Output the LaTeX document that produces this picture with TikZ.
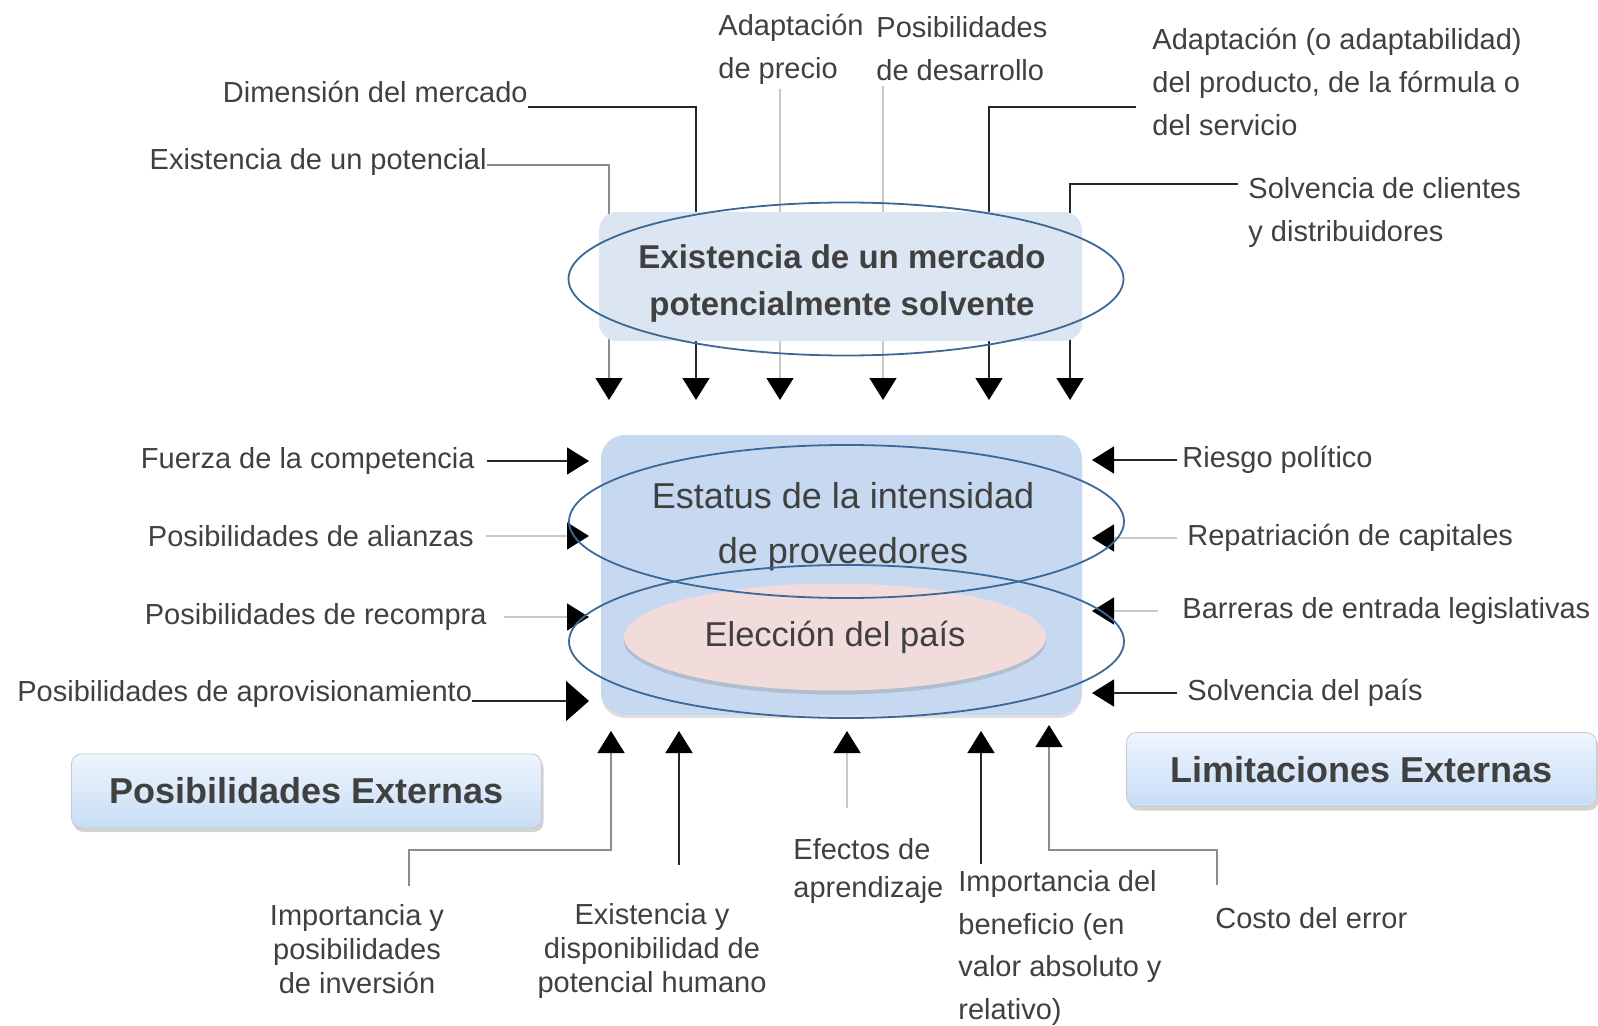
\documentclass[tikz,border=0pt]{standalone}
\usepackage{fontspec}
\setmainfont{Liberation Sans}
\usetikzlibrary{arrows.meta,positioning,shapes.geometric,shadows}
\definecolor{txtgray}{HTML}{404040}
\definecolor{linedark}{HTML}{262626}
\definecolor{linemid}{HTML}{8C8C8C}
\definecolor{linelight}{HTML}{C8C8C8}
\definecolor{topfill}{HTML}{DCE6F2}
\definecolor{midfill}{HTML}{C6D9F1}
\definecolor{ringblue}{HTML}{3B6896}
\definecolor{paisfill}{HTML}{F2DCDB}
\definecolor{tagtop}{HTML}{EEF5FD}
\definecolor{tagbot}{HTML}{C7DDF6}

\begin{document}
\begin{tikzpicture}[
x=0.5pt, y=-0.5pt,
lbl/.style={inner sep=0pt, text=txtgray, font=\fontsize{14.5}{21.5}\selectfont},
arr/.style={draw=linedark, line width=0.75pt, -{Triangle[length=11pt,width=13.5pt,color=black]}},
marr/.style={arr, draw=linemid},
larr/.style={arr, draw=linelight},
barr/.style={arr, -{Triangle[length=11.5pt,width=20pt,color=black]}},
tbox/.style={fill=topfill, rounded corners=9pt, minimum width=241.5pt, minimum height=64.5pt},
mbox/.style={fill=midfill, rounded corners=12pt, minimum width=240.5pt, minimum height=140pt, drop shadow={opacity=0.25, shadow xshift=0pt, shadow yshift=-1.5pt}},
ring/.style={ellipse, draw=ringblue, line width=0.9pt, inner sep=0pt, minimum width=277.5pt, minimum height=76.5pt},
head/.style={inner sep=0pt, align=center, text=txtgray},
pais/.style={ellipse, fill=paisfill, inner sep=0pt, minimum width=211pt, minimum height=53.5pt, text=txtgray, font=\fontsize{17.25}{20}\selectfont, drop shadow={opacity=0.3, shadow xshift=0pt, shadow yshift=-2pt}},
tag/.style={draw=linelight, rounded corners=5pt, top color=tagtop, bottom color=tagbot, minimum width=235pt, minimum height=37pt, text=txtgray, font=\bfseries\fontsize{18}{22}\selectfont, drop shadow={opacity=0.35, shadow xshift=1pt, shadow yshift=-2pt}}
]
\useasboundingbox (0,0) rectangle (1598,1026);

\node[lbl, anchor=east] (dimension) at (528,92) {Dimensión del mercado};
\node[lbl, anchor=east] (potencial) at (487,162) {Existencia de un potencial};
\node[lbl, anchor=west, align=left] (precio) at (718,49) {Adaptación\\de precio};
\node[lbl, anchor=west, align=left] (desarrollo) at (876,49) {Posibilidades\\de desarrollo};
\node[lbl, anchor=west, align=left] (adaptab) at (1152,82) {Adaptación (o adaptabilidad)\\del producto, de la fórmula o\\del servicio};
\node[lbl, anchor=west, align=left] (solcli) at (1248,213) {Solvencia de clientes\\y distribuidores};

\node[lbl, anchor=east] (fuerza) at (475,461) {Fuerza de la competencia};
\node[lbl, anchor=east] (alianzas) at (474,536) {Posibilidades de alianzas};
\node[lbl, anchor=east] (recompra) at (487,617) {Posibilidades de recompra};
\node[lbl, anchor=west] (aprov) at (17,694) {Posibilidades de aprovisionamiento};

\node[lbl, anchor=west] (riesgo) at (1182,460) {Riesgo político};
\node[lbl, anchor=west] (repat) at (1187,538) {Repatriación de capitales};
\node[lbl, anchor=west] (barreras) at (1182,611) {Barreras de entrada legislativas};
\node[lbl, anchor=west] (solpais) at (1187,693) {Solvencia del país};

\node[lbl, align=center, font=\fontsize{14.5}{17}\selectfont] (inversion) at (357,949) {Importancia y\\posibilidades\\de inversión};
\node[lbl, align=center, font=\fontsize{14.5}{17}\selectfont] (humano) at (652,951) {Existencia y\\disponibilidad de\\potencial humano};
\node[lbl, anchor=west, align=left, font=\fontsize{14.5}{19}\selectfont] (efectos) at (793,871) {Efectos de\\aprendizaje};
\node[lbl, anchor=west, align=left, font=\fontsize{14.5}{21.3}\selectfont] (beneficio) at (958,948) {Importancia del\\beneficio (en\\valor absoluto y\\relativo)};
\node[lbl, anchor=west] (costo) at (1215,918) {Costo del error};

\coordinate (t1) at (609,400);
\coordinate (t2) at (696,400);
\coordinate (t3) at (780,400);
\coordinate (t4) at (883,400);
\coordinate (t5) at (989,400);
\coordinate (t6) at (1070,400);
\coordinate (lx) at (589,0);
\coordinate (rx) at (1092,0);
\coordinate (l4) at (589,701);
\coordinate (b1) at (611,731);
\coordinate (b2) at (679,731);
\coordinate (b3) at (847,731);
\coordinate (b4) at (981,731);
\coordinate (b5) at (1049,725);
\coordinate (k1) at (409,850);
\coordinate (k5) at (1217,850);

\draw[marr] ([yshift=-1.5pt]potencial.east) -| (t1);
\draw[arr] ([yshift=-7.5pt]dimension.east) -| (t2);
\draw[larr] (t3 |- precio.south) ++(0,4) -- (t3);
\draw[larr] (t4 |- desarrollo.south) ++(0,4) -- (t4);
\draw[arr] ([xshift=-8pt,yshift=-12.5pt]adaptab.west) -| (t5);
\draw[arr] ([xshift=-5pt,yshift=14.5pt]solcli.west) -| (t6);

\draw[arr] ([xshift=6pt]fuerza.east) -- (fuerza.east -| lx);
\draw[larr] ([xshift=6pt]alianzas.east) -- (alianzas.east -| lx);
\draw[larr] ([xshift=8.5pt]recompra.east) -- (recompra.east -| lx);
\draw[barr] (aprov.east |- l4) -- (l4);

\draw[arr] ([xshift=-2.5pt]riesgo.west) -- (riesgo.west -| rx);
\draw[larr] ([xshift=-5pt]repat.west) -- (repat.west -| rx);
\draw[larr] ([xshift=-12pt]barreras.west) -- (barreras.west -| rx);
\draw[arr] ([xshift=-5pt]solpais.west) -- (solpais.west -| rx);

\draw[marr] (k1 |- inversion.north) ++(0,-18) -- (k1) -| (b1);
\draw[arr] (b2 |- humano.north) ++(0,-38) -- (b2);
\draw[larr] (b3 |- efectos.north) ++(0,-30) -- (b3);
\draw[arr] (b4 |- beneficio.north) ++(0,-6) -- (b4);
\draw[marr] (k5 |- costo.north) ++(0,-22) -- (k5) -| (b5);

\node[tbox] (mercado) at (840.5,276.5) {};
\node[head, font=\bfseries\fontsize{16.5}{23.5}\selectfont] (mercadotxt) at (842,283) {Existencia de un mercado\\potencialmente solvente};
\node[ring] (ringtop) at (846,279) {};

\node[mbox] (centro) at (841.5,575) {};
\node[pais] (eleccion) at (835,637) {Elección del país};
\node[head, font=\fontsize{18}{27.5}\selectfont] (estatus) at (843,527) {Estatus de la intensidad\\de proveedores};
\node[ring] (ringtopmid) at (846.5,521.5) {};
\node[ring] (ringbot) at (846.5,641.5) {};

\node[tag] (posib) at (306.5,791) {Posibilidades Externas};
\node[tag] (limit) at (1361.5,769.5) {Limitaciones Externas};
\end{tikzpicture}
\end{document}
